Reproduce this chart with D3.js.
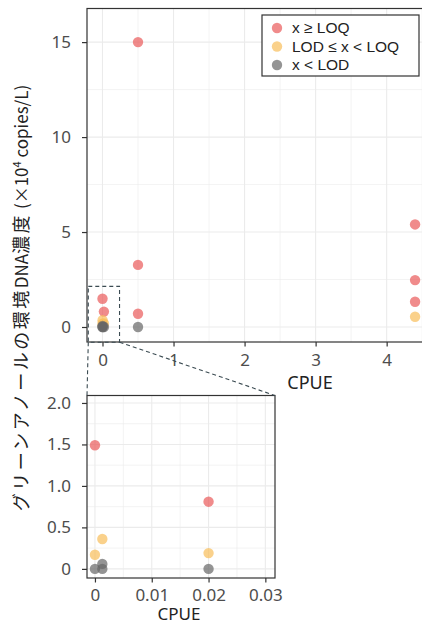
<!DOCTYPE html>
<html><head><meta charset="utf-8">
<script src="https://cdn.jsdelivr.net/npm/d3@7"></script>
<style>body{margin:0;background:#fff}svg{display:block}</style>
</head><body><svg id="c" width="422" height="626"></svg>
<script>
// ---- data ----
const categories = ["x ≥ LOQ", "LOD ≤ x < LOQ", "x < LOD"];
const cpue = [0, 0.02, 0.5, 0.5, 0.5, 4.4, 4.4, 4.4, 0, 0.0013, 0.02, 4.4, 0, 0.0013, 0.0013, 0.02, 0.5];
const conc = [1.49, 0.81, 15, 3.27, 0.7, 5.4, 2.47, 1.33, 0.17, 0.36, 0.19, 0.54, 0, 0, 0.06, 0, 0];
const cat  = [0, 0, 0, 0, 0, 0, 0, 0, 1, 1, 1, 1, 2, 2, 2, 2, 2];
const mainXTicks = [0, 1, 2, 3, 4];
const mainYTicks = [0, 5, 10, 15];
const insetXTicks = [0, 0.01, 0.02, 0.03];
const insetXLabels = ["0", "0.01", "0.02", "0.03"];
const insetYTicks = [0, 0.5, 1, 1.5, 2];
const insetYLabels = ["0", "0.5", "1.0", "1.5", "2.0"];
const zoomBox = {x0: -0.2, x1: 0.24, y0: -0.8, y1: 2.14};

const colors = ["#ea5a5a", "#f8be5a", "#666666"];
const data = cpue.map((d, i) => ({x: d, y: conc[i], c: cat[i]}));

const svg = d3.select("#c");
const fontNum = "'Noto Sans', 'DejaVu Sans', sans-serif";
const fontJP = "'Noto Sans CJK JP', sans-serif";

function panel(g, x, y, xt, xl, yt, yl, xMinor, yMinor, id, xPad) {
  const [L, R] = x.range(), [B, T] = y.range();
  g.append("g").selectAll("line").data(xMinor).join("line")
    .attr("x1", d => x(d)).attr("x2", d => x(d)).attr("y1", T).attr("y2", B)
    .attr("stroke", "#ebebeb").attr("stroke-width", 0.6);
  g.append("g").selectAll("line").data(yMinor).join("line")
    .attr("y1", d => y(d)).attr("y2", d => y(d)).attr("x1", L).attr("x2", R)
    .attr("stroke", "#ebebeb").attr("stroke-width", 0.6);
  g.append("g").selectAll("line").data(xt).join("line")
    .attr("x1", d => x(d)).attr("x2", d => x(d)).attr("y1", T).attr("y2", B)
    .attr("stroke", "#ebebeb").attr("stroke-width", 1.1);
  g.append("g").selectAll("line").data(yt).join("line")
    .attr("y1", d => y(d)).attr("y2", d => y(d)).attr("x1", L).attr("x2", R)
    .attr("stroke", "#ebebeb").attr("stroke-width", 1.1);
  svg.append("clipPath").attr("id", id).append("rect")
    .attr("x", L).attr("y", T).attr("width", R - L).attr("height", B - T);
  const pts = data.filter(d => d.x >= x.domain()[0] && d.x <= x.domain()[1]);
  g.append("g").attr("clip-path", `url(#${id})`).selectAll("circle").data(pts).join("circle")
    .attr("cx", d => x(d.x)).attr("cy", d => y(d.y)).attr("r", 5.2)
    .attr("fill", d => colors[d.c]).attr("fill-opacity", 0.7);
  g.append("rect").attr("x", L).attr("y", T).attr("width", R - L).attr("height", B - T)
    .attr("fill", "none").attr("stroke", "#333").attr("stroke-width", 1.2);
  const ax = g.append("g").attr("transform", `translate(0,${B})`)
    .call(d3.axisBottom(x).tickValues(xt).tickFormat((d, i) => xl[i]).tickSize(4.5).tickPadding(xPad));
  const ay = g.append("g").attr("transform", `translate(${L},0)`)
    .call(d3.axisLeft(y).tickValues(yt).tickFormat((d, i) => yl[i]).tickSize(5).tickPadding(11));
  [ax, ay].forEach(a => {
    a.select(".domain").remove();
    a.selectAll(".tick line").attr("stroke", "#333").attr("stroke-width", 1.2);
    a.selectAll("text").attr("fill", "#4d4d4d").attr("font-size", 17).attr("font-family", fontNum);
  });
}

// main panel
const xM = d3.scaleLinear().domain([-0.218, 6.06]).range([87, 533]);
const yM = d3.scaleLinear().domain([-0.79, 16.77]).range([342, 8.5]);
panel(svg.append("g"), xM, yM, mainXTicks, mainXTicks.map(String), mainYTicks, mainYTicks.map(String),
  [0.5, 1.5, 2.5, 3.5, 4.5, 5.5], [2.5, 7.5, 12.5], "clipM", 7);

// inset panel
const xI = d3.scaleLinear().domain([-0.0014, 0.0317]).range([87, 275]);
const yI = d3.scaleLinear().domain([-0.11, 2.09]).range([578, 395.5]);
panel(svg.append("g"), xI, yI, insetXTicks, insetXLabels, insetYTicks, insetYLabels,
  [0.005, 0.015, 0.025], [0.25, 0.75, 1.25, 1.75], "clipI", 6);

// zoom box and connectors
const dash = {stroke: "#3b4b52", "stroke-width": 1.1, "stroke-dasharray": "4,3", fill: "none"};
const zr = svg.append("rect")
  .attr("x", xM(zoomBox.x0)).attr("y", yM(zoomBox.y1))
  .attr("width", xM(zoomBox.x1) - xM(zoomBox.x0)).attr("height", yM(zoomBox.y0) - yM(zoomBox.y1));
Object.entries(dash).forEach(([k, v]) => zr.attr(k, v));
const conn = [[xM(zoomBox.x0), yM(zoomBox.y0), xI.range()[0], yI.range()[1]],
              [xM(zoomBox.x1), yM(zoomBox.y0), xI.range()[1], yI.range()[1]]];
svg.append("g").selectAll("line").data(conn).join("line")
  .attr("x1", d => d[0]).attr("y1", d => d[1]).attr("x2", d => d[2]).attr("y2", d => d[3])
  .each(function () { Object.entries(dash).forEach(([k, v]) => d3.select(this).attr(k, v)); });

// axis titles
svg.append("text").attr("x", 310).attr("y", 389).attr("text-anchor", "middle")
  .attr("font-size", 18).attr("font-family", fontNum).attr("fill", "#222").text("CPUE");
svg.append("text").attr("x", 179).attr("y", 620).attr("text-anchor", "middle")
  .attr("font-size", 17).attr("font-family", fontNum).attr("fill", "#222").text("CPUE");

const yt = svg.append("text").attr("transform", "translate(28,298) rotate(-90)")
  .attr("text-anchor", "middle").attr("fill", "#222").attr("font-family", fontJP);
yt.append("tspan").attr("font-size", 18).attr("letter-spacing", 2.5).text("グリーンアノールの環境");
yt.append("tspan").attr("font-size", 17).text("DNA");
yt.append("tspan").attr("font-size", 18).attr("letter-spacing", 2.5).text("濃度");
yt.append("tspan").attr("font-size", 17).text(" (×10");
yt.append("tspan").attr("font-size", 11).attr("dy", -7).text("4");
yt.append("tspan").attr("font-size", 17).attr("dy", 7).text(" copies/L)");

// legend
const lg = svg.append("g");
lg.append("rect").attr("x", 262).attr("y", 15).attr("width", 157).attr("height", 61)
  .attr("fill", "#fff").attr("stroke", "#333").attr("stroke-width", 1.2);
const li = lg.selectAll("g.li").data(categories).join("g").attr("class", "li")
  .attr("transform", (d, i) => `translate(277,${28 + i * 18.5})`);
li.append("circle").attr("r", 5.2).attr("fill", (d, i) => colors[i]).attr("fill-opacity", 0.7);
li.append("text").attr("x", 15).attr("dy", "0.35em").attr("font-size", 15.5)
  .attr("font-family", "'Liberation Sans', Arial, sans-serif").attr("fill", "#222").text(d => d);
</script></body></html>
